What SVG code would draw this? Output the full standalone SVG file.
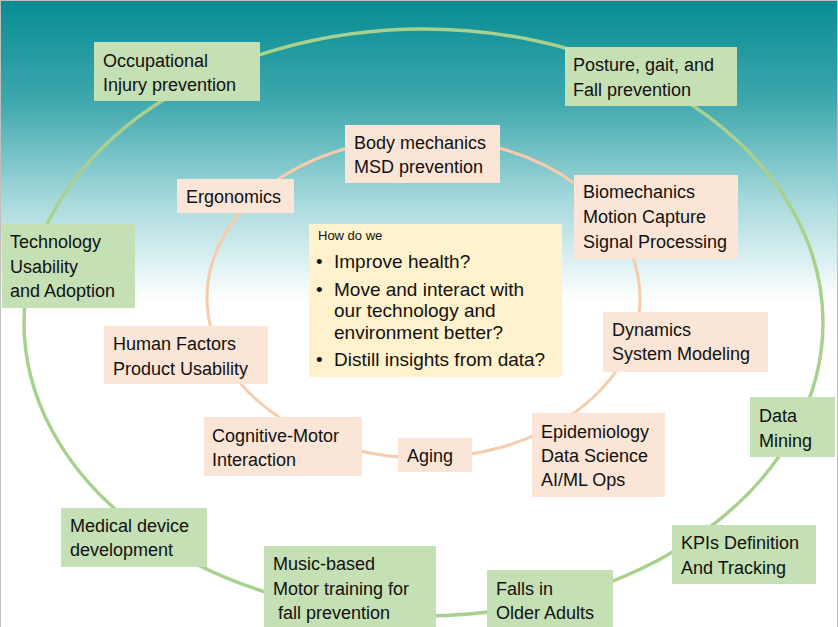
<svg xmlns="http://www.w3.org/2000/svg" width="838" height="627" viewBox="0 0 838 627">
<defs>
<linearGradient id="bg" x1="0" y1="0" x2="0" y2="627" gradientUnits="userSpaceOnUse">
<stop offset="0" stop-color="#068d93"/>
<stop offset="0.16" stop-color="#3ea7ad"/>
<stop offset="0.32" stop-color="#a6d9dc"/>
<stop offset="0.48" stop-color="#ffffff"/>
<stop offset="1" stop-color="#ffffff"/>
</linearGradient>
<style>
.g{fill:#c5e0b4}
.p{fill:#fbe5d6}
.q{fill:#fff2cc}
text{font-family:"Liberation Sans",Arial,sans-serif;font-size:18px;fill:#111}
.small{font-size:13px}
.big{font-size:19px}
</style>
</defs>
<rect x="0" y="0" width="838" height="627" fill="url(#bg)"/>
<rect x="0.5" y="0.5" width="837" height="640" fill="none" stroke="#bfbfbf" stroke-width="1"/>
<g id="connectors" fill="none">
<ellipse cx="423.5" cy="322.5" rx="399.5" ry="293.5" stroke="#a9d18e" stroke-width="3.5"/>
<ellipse cx="423.5" cy="298" rx="216.5" ry="160" stroke="#f8cbad" stroke-width="3"/>
</g>
<g id="occupational"><rect class="g" x="94" y="42" width="166" height="59"/><text x="103" y="67">Occupational</text><text x="103" y="91">Injury prevention</text></g>
<g id="posture"><rect class="g" x="565" y="47" width="172" height="59"/><text x="573" y="71">Posture, gait, and</text><text x="573" y="96">Fall prevention</text></g>
<g id="technology"><rect class="g" x="2" y="224" width="133" height="84"/><text x="10" y="248">Technology</text><text x="10" y="273">Usability</text><text x="10" y="297">and Adoption</text></g>
<g id="datamining"><rect class="g" x="750" y="397" width="85" height="60"/><text x="759" y="422">Data</text><text x="759" y="447">Mining</text></g>
<g id="kpis"><rect class="g" x="672" y="525" width="144" height="59"/><text x="681" y="549">KPIs Definition</text><text x="681" y="574">And Tracking</text></g>
<g id="medical"><rect class="g" x="61" y="508" width="146" height="59"/><text x="70" y="532">Medical device</text><text x="70" y="556">development</text></g>
<g id="music"><rect class="g" x="264" y="546" width="172" height="85"/><text x="273" y="570">Music-based</text><text x="273" y="595">Motor training for</text><text x="278" y="619">fall prevention</text></g>
<g id="falls"><rect class="g" x="487" y="570" width="126" height="61"/><text x="496" y="595">Falls in</text><text x="496" y="619">Older Adults</text></g>
<g id="body"><rect class="p" x="345" y="125" width="155" height="58"/><text x="354" y="149">Body mechanics</text><text x="354" y="173">MSD prevention</text></g>
<g id="ergonomics"><rect class="p" x="177" y="179" width="117" height="34"/><text x="186" y="203">Ergonomics</text></g>
<g id="biomechanics"><rect class="p" x="574" y="175" width="164" height="84"/><text x="583" y="198">Biomechanics</text><text x="583" y="223">Motion Capture</text><text x="583" y="248">Signal Processing</text></g>
<g id="dynamics"><rect class="p" x="603" y="312" width="165" height="60"/><text x="612" y="336">Dynamics</text><text x="612" y="360">System Modeling</text></g>
<g id="humanfactors"><rect class="p" x="104" y="326" width="164" height="58"/><text x="113" y="350">Human Factors</text><text x="113" y="375">Product Usability</text></g>
<g id="cognitive"><rect class="p" x="204" y="417" width="158" height="59"/><text x="212" y="442">Cognitive-Motor</text><text x="212" y="466">Interaction</text></g>
<g id="aging"><rect class="p" x="398" y="438" width="74" height="34"/><text x="407" y="462">Aging</text></g>
<g id="epidemiology"><rect class="p" x="532" y="413" width="133" height="84"/><text x="541" y="438">Epidemiology</text><text x="541" y="462">Data Science</text><text x="541" y="486">AI/ML Ops</text></g>
<g id="question"><rect class="q" x="309" y="224" width="253" height="153"/>
<text class="small" x="318" y="240">How do we</text>
<text class="big" x="316" y="268">•</text><text class="big" x="334" y="268">Improve health?</text>
<text class="big" x="316" y="296">•</text><text class="big" x="334" y="296">Move and interact with</text>
<text class="big" x="334" y="317">our technology and</text>
<text class="big" x="334" y="339">environment better?</text>
<text class="big" x="316" y="366">•</text><text class="big" x="334" y="366">Distill insights from data?</text>
</g>
</svg>
